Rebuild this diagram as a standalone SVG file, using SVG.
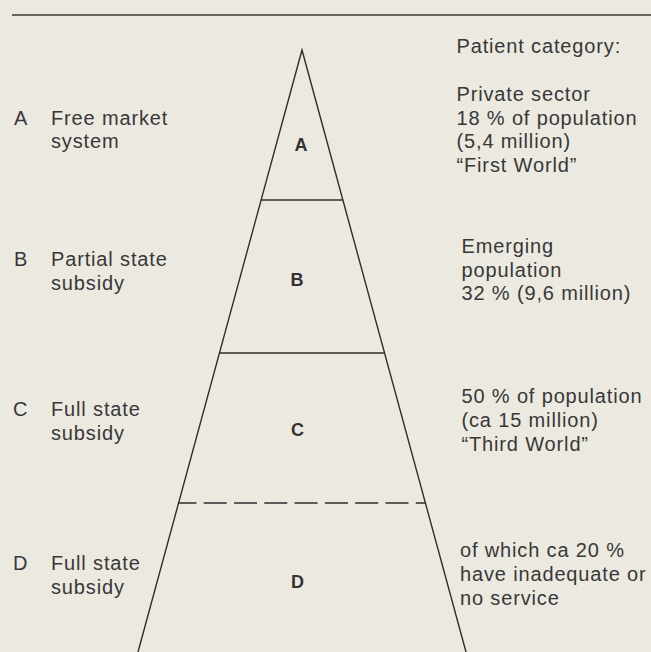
<svg xmlns="http://www.w3.org/2000/svg" width="651" height="652" viewBox="0 0 651 652">
  <style>
    .lbl { font-family: "Liberation Sans", Arial, Helvetica, sans-serif; font-size: 20px; fill: #383838; letter-spacing: 0.85px; }
    .tier { font-family: "Liberation Sans", Arial, Helvetica, sans-serif; font-size: 18px; font-weight: bold; fill: #333; text-anchor: middle; }
    .edge { stroke: #2e2e2e; stroke-width: 1.4; fill: none; }
  </style>

  <!-- paper -->
  <rect x="0" y="0" width="651" height="652" fill="#ECE9E0"/>

  <!-- header rule -->
  <line x1="12" y1="15" x2="651" y2="15" stroke="#3a3a3a" stroke-width="1.4"/>

  <!-- pyramid outline and tier dividers -->
  <g id="connectors">
    <polyline class="edge" points="138,652 302,50 466,652"/>
    <line class="edge" x1="261" y1="200" x2="343" y2="200"/>
    <line class="edge" x1="219.5" y1="353" x2="384.5" y2="353"/>
    <line class="edge" x1="178.6" y1="503" x2="425.4" y2="503" stroke-dasharray="23 7.3" stroke-dashoffset="5.2"/>
  </g>

  <!-- tier letters inside the pyramid -->
  <g id="tier-A"><text class="tier" x="301" y="151">A</text></g>
  <g id="tier-B"><text class="tier" x="297" y="286">B</text></g>
  <g id="tier-C"><text class="tier" x="297.5" y="436">C</text></g>
  <g id="tier-D"><text class="tier" x="297.5" y="587.5">D</text></g>

  <!-- health-care system labels (left) -->
  <g id="system-A">
    <text class="lbl" x="14" y="124.5">A</text>
    <text class="lbl" x="51" y="124.5">Free market</text>
    <text class="lbl" x="51" y="148">system</text>
  </g>
  <g id="system-B">
    <text class="lbl" x="14" y="266">B</text>
    <text class="lbl" x="51" y="266">Partial state</text>
    <text class="lbl" x="51" y="289.5">subsidy</text>
  </g>
  <g id="system-C">
    <text class="lbl" x="13" y="416">C</text>
    <text class="lbl" x="51" y="416">Full state</text>
    <text class="lbl" x="51" y="439.5">subsidy</text>
  </g>
  <g id="system-D">
    <text class="lbl" x="13" y="570">D</text>
    <text class="lbl" x="51" y="570">Full state</text>
    <text class="lbl" x="51" y="593.5">subsidy</text>
  </g>

  <!-- patient category labels (right) -->
  <g id="category-heading">
    <text class="lbl" x="456.5" y="53">Patient category:</text>
  </g>
  <g id="category-A">
    <text class="lbl" x="456.5" y="100.5">Private sector</text>
    <text class="lbl" x="456.5" y="124.5">18 % of population</text>
    <text class="lbl" x="456.5" y="148">(5,4 million)</text>
    <text class="lbl" x="456.5" y="171.5">“First World”</text>
  </g>
  <g id="category-B">
    <text class="lbl" x="461.5" y="253">Emerging</text>
    <text class="lbl" x="461.5" y="276.5">population</text>
    <text class="lbl" x="461.5" y="300">32 % (9,6 million)</text>
  </g>
  <g id="category-C">
    <text class="lbl" x="461.5" y="403">50 % of population</text>
    <text class="lbl" x="461.5" y="427">(ca 15 million)</text>
    <text class="lbl" x="461.5" y="450.5">“Third World”</text>
  </g>
  <g id="category-D">
    <text class="lbl" x="460" y="557">of which ca 20 %</text>
    <text class="lbl" x="460" y="581">have inadequate or</text>
    <text class="lbl" x="460" y="605">no service</text>
  </g>
</svg>
